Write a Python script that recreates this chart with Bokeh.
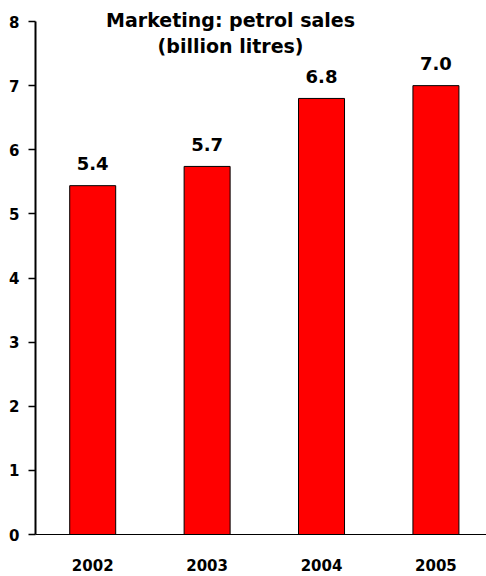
from bokeh.plotting import figure
from bokeh.models import ColumnDataSource, FixedTicker, Range1d, Label
from bokeh.core.properties import value
from bokeh.embed import file_html
from bokeh.resources import INLINE

# Annual petrol sales, billion litres
years = ["2002", "2003", "2004", "2005"]
sales = [5.44, 5.74, 6.8, 7.0]
y_ticks = [0, 1, 2, 3, 4, 5, 6, 7, 8]
title_lines = ["Marketing: petrol sales", "(billion litres)"]

FONT = "DejaVu Sans"

xs = list(range(len(years)))
source = ColumnDataSource(data=dict(
    x=xs,
    sales=sales,
    label=[f"{v:.1f}" for v in sales],
))

p = figure(
    width=486, height=576,
    x_range=Range1d(-0.5, 3.442),
    y_range=Range1d(0, 8.3275),
    output_backend="svg",
    toolbar_location=None,
    min_border_left=35, min_border_right=0,
    min_border_top=0, min_border_bottom=42,
)
p.outline_line_color = None
p.background_fill_color = "white"
p.border_fill_color = "white"
p.xgrid.visible = False
p.ygrid.visible = False

# bars
p.vbar(x="x", top="sales", width=0.402, bottom=0, source=source,
       fill_color="#FF0000", line_color="black", line_width=1)

# value labels above bars
p.text(x="x", y="sales", text="label", source=source,
       text_align="center", text_baseline="alphabetic", y_offset=-22,
       text_font=value(FONT), text_font_style="bold", text_font_size="18px",
       text_color="black")

# y axis, drawn only from 0 to 8
p.yaxis.bounds = (0, 8)
p.yaxis.ticker = FixedTicker(ticks=y_ticks)
p.yaxis.axis_line_width = 2
p.yaxis.axis_line_color = "black"
p.yaxis.major_tick_out = 7
p.yaxis.major_tick_in = 0
p.yaxis.major_tick_line_width = 1.5
p.yaxis.minor_tick_line_color = None
p.yaxis.major_label_standoff = 9
p.yaxis.major_label_text_font = FONT
p.yaxis.major_label_text_font_style = "bold"
p.yaxis.major_label_text_font_size = "15px"
p.yaxis.major_label_text_color = "black"

# x axis with year labels
p.xaxis.ticker = FixedTicker(ticks=xs)
p.xaxis.major_label_overrides = {i: y for i, y in zip(xs, years)}
p.xaxis.axis_line_width = 1
p.xaxis.axis_line_color = "black"
p.xaxis.major_tick_line_color = None
p.xaxis.major_tick_out = 0
p.xaxis.major_tick_in = 0
p.xaxis.minor_tick_line_color = None
p.xaxis.major_label_standoff = 24
p.xaxis.major_label_text_font = FONT
p.xaxis.major_label_text_font_style = "bold"
p.xaxis.major_label_text_font_size = "15px"
p.xaxis.major_label_text_color = "black"

# two-line chart heading inside the plot area
for line, y in zip(title_lines, [8.027, 7.615]):
    p.add_layout(Label(x=1.205, y=y, text=line, text_align="center",
                       text_baseline="alphabetic", text_font=FONT,
                       text_font_style="bold", text_font_size="19px",
                       text_color="black"))

open("out.html", "w").write(file_html(p, INLINE))
